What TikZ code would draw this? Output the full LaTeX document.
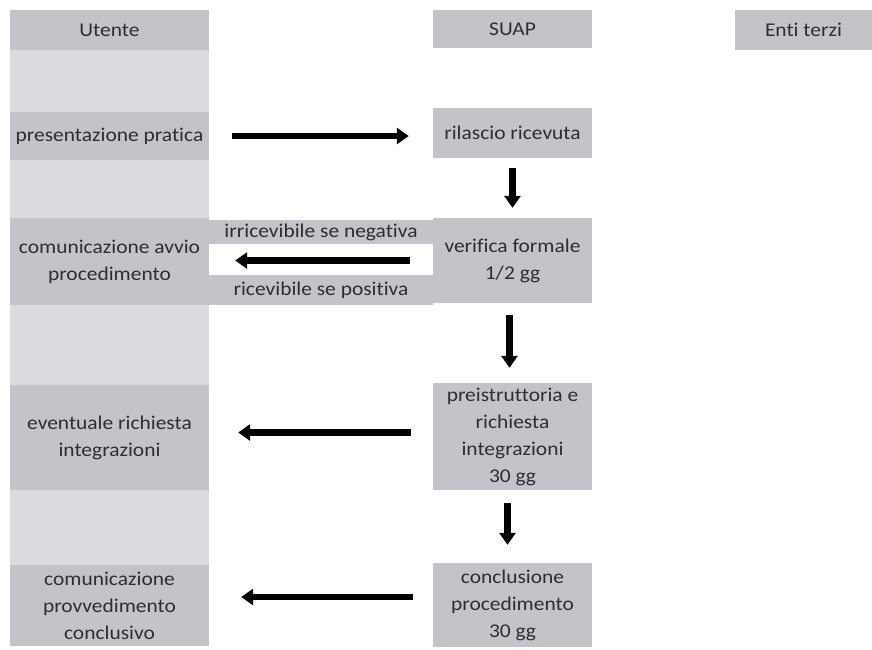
\documentclass[tikz,border=0pt]{standalone}
\usepackage{fontspec}
\setmainfont{Carlito}[FakeStretch=1.1, Ligatures=NoCommon]
\usetikzlibrary{arrows.meta}
\definecolor{bandc}{RGB}{196,195,201}
\definecolor{colc}{RGB}{219,218,223}
\definecolor{txtc}{RGB}{45,45,50}
\begin{document}
\begin{tikzpicture}[x=1pt,y=-1pt,
  band/.style={fill=bandc, draw=none, inner sep=0pt, align=center,
    font=\fontsize{19.5}{27}\selectfont, text=txtc},
  colbg/.style={fill=colc, draw=none, inner sep=0pt, anchor=north west},
  flow/.style={line width=6.5pt, draw=black, -{Triangle[length=12pt,width=16pt]}}]
\useasboundingbox[fill=white] (0,0) rectangle (872,649);
% left column background
\node[colbg, minimum width=199pt, minimum height=636pt] (ucol) at (10,10) {};
% left column bands
\node[band, minimum width=199pt, minimum height=40pt] (hU) at (109.5,30) {Utente};
\node[band, minimum width=199pt, minimum height=48pt] (pp) at (109.5,136) {presentazione pratica};
\node[band, minimum width=199pt, minimum height=87pt] (ca) at (109.5,261.5) {comunicazione avvio\\procedimento};
\node[band, minimum width=199pt, minimum height=105pt] (er) at (109.5,437.5) {eventuale richiesta\\integrazioni};
\node[band, minimum width=199pt, minimum height=81pt] (cc) at (109.5,605.5) {comunicazione\\provvedimento\\conclusivo};
% SUAP column
\node[band, minimum width=159pt, minimum height=38pt] (hS) at (512.5,29) {SUAP};
\node[band, minimum width=159pt, minimum height=50pt] (rr) at (512.5,133) {rilascio ricevuta};
\node[band, minimum width=159pt, minimum height=85pt] (vf) at (512.5,260.5) {verifica formale\\1/2 gg};
\node[band, minimum width=159pt, minimum height=107pt] (pi) at (512.5,436.5) {preistruttoria e\\richiesta\\integrazioni\\30 gg};
\node[band, minimum width=159pt, minimum height=84pt] (cp) at (512.5,605) {conclusione\\procedimento\\30 gg};
% Enti terzi
\node[band, minimum width=137pt, minimum height=40pt] (hE) at (803.5,30) {Enti terzi};
% middle labels
\node[band, minimum width=224pt, minimum height=24pt] (irr) at (321,232) {irricevibile se negativa};
\node[band, minimum width=224pt, minimum height=30pt] (ric) at (321,290) {ricevibile se positiva};
% horizontal arrows
\draw[flow] ([xshift=23pt]pp.east) -- ([xshift=-24pt]pp.east -| rr.west);
\draw[flow] ([xshift=-23pt]vf.west) -- ([xshift=26pt]vf.west -| ca.east);
\draw[flow] ([xshift=-22pt,yshift=4pt]pi.west) -- ([xshift=29pt,yshift=4pt]pi.west -| er.east);
\draw[flow] ([xshift=-20pt,yshift=8pt]cp.west) -- ([xshift=32pt,yshift=8pt]cp.west -| cc.east);
% vertical arrows
\draw[flow] ([yshift=-10pt]rr.south) -- ([yshift=10pt]vf.north);
\draw[flow] ([xshift=-3pt,yshift=-12pt]vf.south) -- ([xshift=-3pt,yshift=15pt]pi.north);
\draw[flow] ([xshift=-5pt,yshift=-13pt]pi.south) -- ([xshift=-5pt,yshift=18pt]cp.north);
\end{tikzpicture}
\end{document}
